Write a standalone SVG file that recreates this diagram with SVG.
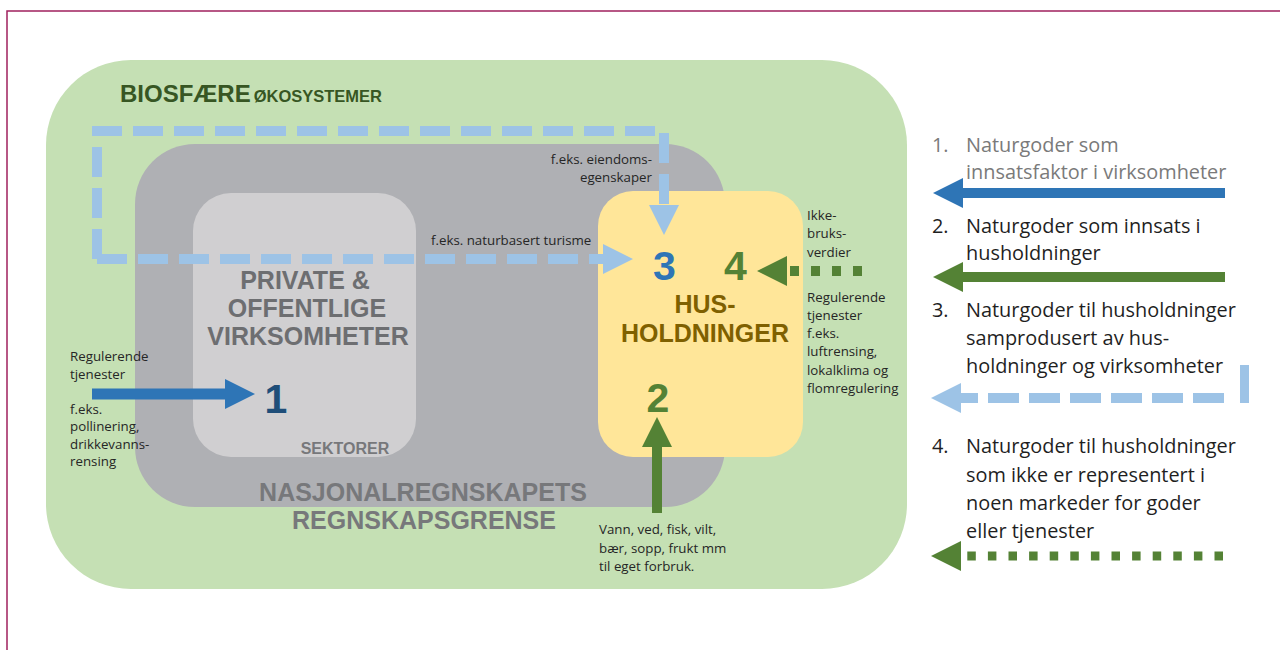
<svg xmlns="http://www.w3.org/2000/svg" width="1280" height="650" viewBox="0 0 1280 650">
<style>
.t{font-family:"Open Sans","Liberation Sans",sans-serif;font-size:13.3px;fill:#262626}
.lg{font-family:"Open Sans","Liberation Sans",sans-serif;font-size:19.9px;fill:#1f1f1f}
.lg1{fill:#7a7a7a}
.b{font-family:"Liberation Sans",Arial,sans-serif;font-weight:bold}
.big{font-size:25px;fill:#6d6e71;text-anchor:middle}
.num{font-size:41px;text-anchor:middle}
.ls{fill:none;stroke:#9dc3e6;stroke-width:10;stroke-dasharray:30 11}
</style>
<defs>
<marker id="aBlue" markerUnits="userSpaceOnUse" viewBox="0 -15 30 30" refX="0" refY="0" markerWidth="30" markerHeight="30" orient="auto"><path d="M0,-15 L30,0 L0,15 z" fill="#2e75b6"/></marker>
<marker id="aGreen" markerUnits="userSpaceOnUse" viewBox="0 -15 30 30" refX="0" refY="0" markerWidth="30" markerHeight="30" orient="auto"><path d="M0,-15 L30,0 L0,15 z" fill="#548235"/></marker>
<marker id="aLight" markerUnits="userSpaceOnUse" viewBox="0 -15 30 30" refX="0" refY="0" markerWidth="30" markerHeight="30" orient="auto"><path d="M0,-15 L30,0 L0,15 z" fill="#9dc3e6"/></marker>
</defs>
<rect x="7" y="11" width="1290" height="660" fill="#fff" stroke="#a0215e" stroke-width="1.5"/>

<g id="biosfaere">
<rect x="46" y="60" width="861" height="529" rx="85" fill="#c5e0b4"/>
<text x="120" y="102" class="b" font-size="24" fill="#375623">BIOSFÆRE<tspan font-size="16.5" dx="3">ØKOSYSTEMER</tspan></text>
</g>

<g id="regnskapsgrense">
<rect x="135" y="144" width="590" height="363" rx="60" fill="#afb0b4"/>
<text class="b big" style="fill:#77787b"><tspan x="423" y="501">NASJONALREGNSKAPETS</tspan><tspan x="424" y="529">REGNSKAPSGRENSE</tspan></text>
</g>

<g id="sektorer">
<rect x="193" y="193" width="223" height="264" rx="38" fill="#d0cfd1"/>
<text class="b big"><tspan x="305" y="289">PRIVATE &amp;</tspan><tspan x="307" y="317">OFFENTLIGE</tspan><tspan x="308" y="345">VIRKSOMHETER</tspan></text>
<text x="345" y="454" class="b" font-size="16" fill="#77787b" text-anchor="middle">SEKTORER</text>
<text x="276" y="413" class="b num" fill="#1f4e79">1</text>
</g>

<g id="husholdninger">
<rect x="598" y="191" width="205" height="266" rx="35" fill="#ffe699"/>
<text class="b" font-size="25" fill="#7f6000" text-anchor="middle"><tspan x="705" y="313">HUS-</tspan><tspan x="705" y="342">HOLDNINGER</tspan></text>
<text x="664.5" y="280" class="b num" fill="#2e75b6">3</text>
<text x="735.5" y="280" class="b num" fill="#548235">4</text>
<text x="658" y="412" class="b num" fill="#548235">2</text>
</g>

<g id="connectors">
<path class="ls" d="M97 259 V131 H664 V205" marker-end="url(#aLight)"/>
<path class="ls" d="M97 259 H603" marker-end="url(#aLight)"/>
<path d="M92 394 H225" stroke="#2e75b6" stroke-width="11" fill="none" marker-end="url(#aBlue)"/>
<path d="M657 513 V447" stroke="#548235" stroke-width="10" fill="none" marker-end="url(#aGreen)"/>
<path d="M862 271 H787" stroke="#548235" stroke-width="10" stroke-dasharray="9 12" fill="none" marker-end="url(#aGreen)"/>
</g>

<g id="labels">
<text class="t"><tspan x="70" y="361">Regulerende</tspan><tspan x="70" y="379">tjenester</tspan><tspan x="70" y="414">f.eks.</tspan><tspan x="70" y="431">pollinering,</tspan><tspan x="70" y="449">drikkevanns-</tspan><tspan x="70" y="466">rensing</tspan></text>
<text class="t" text-anchor="end"><tspan x="652" y="164">f.eks. eiendoms-</tspan><tspan x="652" y="182">egenskaper</tspan></text>
<text x="431" y="245" class="t">f.eks. naturbasert turisme</text>
<text class="t"><tspan x="807" y="220">Ikke-</tspan><tspan x="807" y="238">bruks-</tspan><tspan x="807" y="257">verdier</tspan></text>
<text class="t"><tspan x="807" y="302">Regulerende</tspan><tspan x="807" y="320">tjenester</tspan><tspan x="807" y="338">f.eks.</tspan><tspan x="807" y="356">luftrensing,</tspan><tspan x="807" y="375">lokalklima og</tspan><tspan x="807" y="393">flomregulering</tspan></text>
<text class="t"><tspan x="599" y="534">Vann, ved, fisk, vilt,</tspan><tspan x="599" y="553">bær, sopp, frukt mm</tspan><tspan x="599" y="571">til eget forbruk.</tspan></text>
</g>

<g id="legend">
<text class="lg lg1"><tspan x="932" y="152">1.</tspan><tspan x="966" y="152">Naturgoder som</tspan><tspan x="966" y="179">innsatsfaktor i virksomheter</tspan></text>
<path d="M1225 193 H963" stroke="#2e75b6" stroke-width="10" fill="none" marker-end="url(#aBlue)"/>
<text class="lg"><tspan x="932" y="233">2.</tspan><tspan x="966" y="233">Naturgoder som innsats i</tspan><tspan x="966" y="260">husholdninger</tspan></text>
<path d="M1225 277 H963" stroke="#548235" stroke-width="10" fill="none" marker-end="url(#aGreen)"/>
<text class="lg"><tspan x="932" y="317">3.</tspan><tspan x="966" y="317">Naturgoder til husholdninger</tspan><tspan x="966" y="345">samprodusert av hus-</tspan><tspan x="966" y="373">holdninger og virksomheter</tspan></text>
<path d="M1244.5 365 V403" stroke="#9dc3e6" stroke-width="9" fill="none"/>
<path d="M1224 398 H961" stroke="#9dc3e6" stroke-width="10" stroke-dasharray="31 10" fill="none" marker-end="url(#aLight)"/>
<text class="lg"><tspan x="932" y="453">4.</tspan><tspan x="966" y="453">Naturgoder til husholdninger</tspan><tspan x="966" y="482">som ikke er representert i</tspan><tspan x="966" y="510">noen markeder for goder</tspan><tspan x="966" y="538">eller tjenester</tspan></text>
<path d="M1223 556 H961" stroke="#548235" stroke-width="9" stroke-dasharray="8.5 12.1" fill="none" marker-end="url(#aGreen)"/>
</g>
</svg>
